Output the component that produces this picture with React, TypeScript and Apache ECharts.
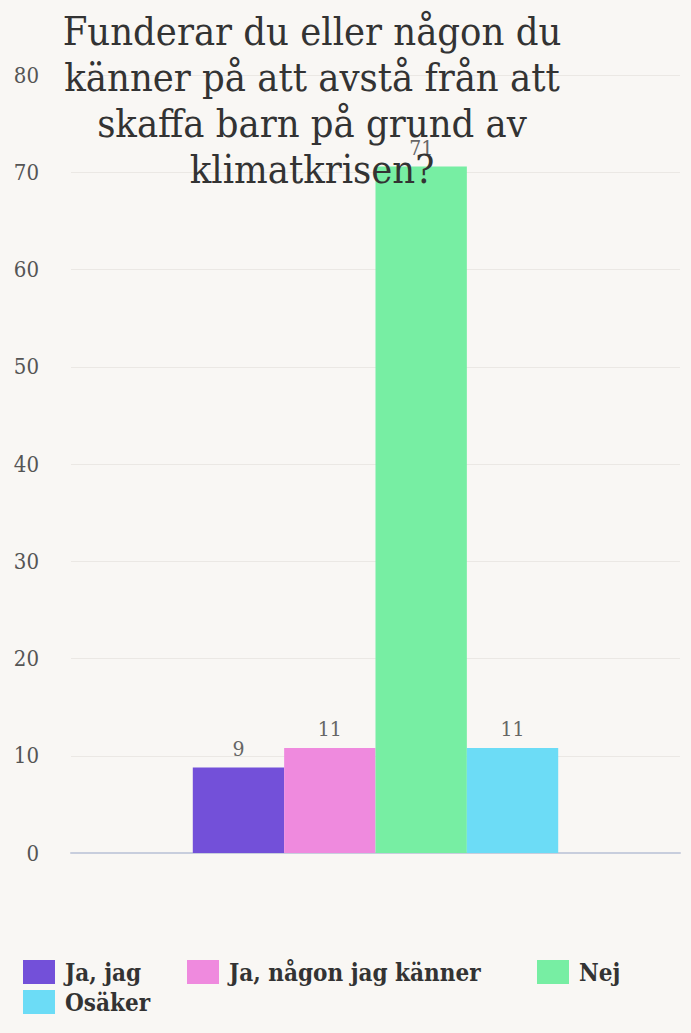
import React, { useEffect, useRef } from "react";
import * as echarts from "echarts";

const titleLines = [
  "Funderar du eller någon du",
  "känner på att avstå från att",
  "skaffa barn på grund av",
  "klimatkrisen?",
];
const category = [""];
const seriesNames = ["Ja, jag", "Ja, någon jag känner", "Nej", "Osäker"];
const seriesValues = [8.8, 10.8, 70.6, 10.8];
const seriesColors = ["#7350d9", "#ef8ade", "#77eea3", "#6cdcf6"];
const yTicks = { min: 0, max: 80, interval: 10 };

const FONT = "'DejaVu Serif Condensed', 'DejaVu Serif', serif";

const legendText = {
  fontFamily: FONT,
  fontSize: 24,
  fontWeight: "bold",
  color: "#333333",
  rich: {
    p: { width: 5, fontSize: 24 },
  },
};

const legendSlots = [
  { left: 23, top: 960 },
  { left: 187, top: 960 },
  { left: 537, top: 960 },
  { left: 23, top: 990 },
];

export default function App() {
  const ref = useRef<HTMLDivElement>(null);
  useEffect(() => {
    document.body.style.margin = "0";
    const chart = echarts.init(ref.current!, null, { renderer: "svg" });
    chart.setOption({
      animation: false,
      backgroundColor: "#f9f7f4",
      title: {
        text: titleLines.join("\n"),
        left: 307,
        top: 3,
        textAlign: "center",
        textStyle: {
          fontFamily: FONT,
          fontSize: 39.5,
          fontWeight: "normal",
          color: "#333333",
          lineHeight: 46,
        },
      },
      legend: seriesNames.map((name, i) => ({
        left: legendSlots[i].left,
        top: legendSlots[i].top,
        padding: 0,
        itemWidth: 32,
        itemHeight: 24,
        icon: "rect",
        textStyle: legendText,
        formatter: (n: string) => `{p|}${n}`,
        data: [name],
      })),
      grid: { left: 71, right: 11, top: 75, bottom: 180, containLabel: false },
      xAxis: {
        type: "category",
        data: category,
        axisTick: { show: false },
        axisLabel: { show: false },
        axisLine: { lineStyle: { color: "#c8cedd", width: 2 } },
      },
      yAxis: {
        type: "value",
        min: yTicks.min,
        max: yTicks.max,
        interval: yTicks.interval,
        axisLabel: {
          fontFamily: FONT,
          fontSize: 22,
          color: "#555555",
          margin: 32,
        },
        splitLine: { lineStyle: { color: "#ebe8e4", width: 1 } },
        axisLine: { show: false },
        axisTick: { show: false },
      },
      series: seriesNames.map((name, i) => ({
        name,
        type: "bar",
        data: [seriesValues[i]],
        barGap: "0%",
        barCategoryGap: "40%",
        itemStyle: { color: seriesColors[i] },
        label: {
          show: true,
          position: "top",
          distance: 8,
          fontFamily: FONT,
          fontSize: 21,
          color: "#666666",
          formatter: (p: any) => String(Math.round(p.value)),
        },
      })),
    });
    return () => chart.dispose();
  }, []);
  return (
    <div
      ref={ref}
      style={{ position: "absolute", left: 0, top: 0, width: 691, height: 1033 }}
    />
  );
}
